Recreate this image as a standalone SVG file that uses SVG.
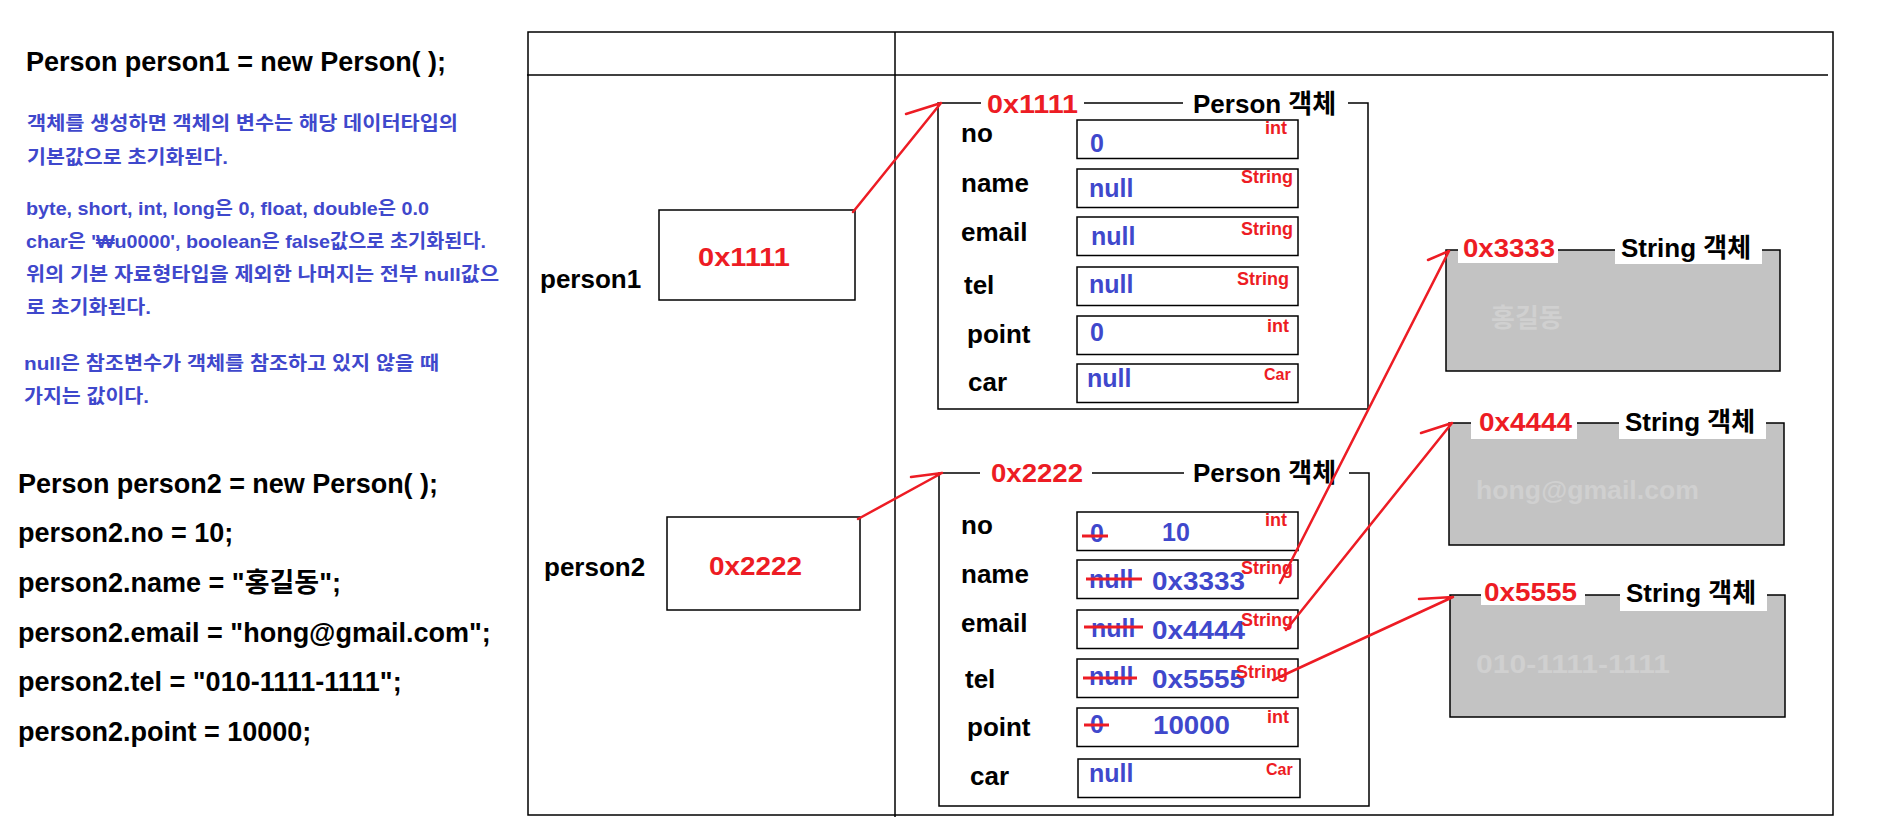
<svg xmlns="http://www.w3.org/2000/svg" width="1887" height="825" viewBox="0 0 1887 825">
<style>
text{font-family:'Liberation Sans','Noto Sans CJK KR',sans-serif;font-weight:bold}
.code{font-size:27px;fill:#000}
.note{font-size:19px;fill:#3F48CC}
.lbl{font-size:26px;fill:#000}
.addr{font-size:26px;fill:#ED1C24}
.val{font-size:25px;fill:#3F48CC}
.typ{font-size:18px;fill:#ED1C24}
.typs{font-size:16px;fill:#ED1C24}
.ghost{font-size:26px;fill:#D0D0D0}
.box{fill:#fff;stroke:#000;stroke-width:1.5}
.frame{fill:none;stroke:#000;stroke-width:1.5}
.str{fill:#C3C3C3;stroke:#000;stroke-width:1.5}
.bg{fill:#fff}
.strike{stroke:#ED1C24;stroke-width:3}
.arrow{fill:none;stroke:#ED1C24;stroke-width:2.5;stroke-linecap:round}
</style>
<rect width="1887" height="825" fill="#fff"/>

<g id="code-text">
<text class="code" x="26" y="71" textLength="420" lengthAdjust="spacing">Person person1 = new Person( );</text>
<text class="note" x="27" y="130" textLength="431" lengthAdjust="spacingAndGlyphs">객체를 생성하면 객체의 변수는 해당 데이터타입의</text>
<text class="note" x="27" y="164" textLength="201" lengthAdjust="spacingAndGlyphs">기본값으로 초기화된다.</text>
<text class="note" x="26" y="215" textLength="403" lengthAdjust="spacingAndGlyphs">byte, short, int, long은 0, float, double은 0.0</text>
<text class="note" x="26" y="248" textLength="460" lengthAdjust="spacingAndGlyphs">char은 '₩u0000', boolean은 false값으로 초기화된다.</text>
<text class="note" x="26" y="281" textLength="473" lengthAdjust="spacingAndGlyphs">위의 기본 자료형타입을 제외한 나머지는 전부 null값으</text>
<text class="note" x="26" y="314" textLength="125" lengthAdjust="spacingAndGlyphs">로 초기화된다.</text>
<text class="note" x="24" y="370" textLength="415" lengthAdjust="spacingAndGlyphs">null은 참조변수가 객체를 참조하고 있지 않을 때</text>
<text class="note" x="24" y="403" textLength="125" lengthAdjust="spacingAndGlyphs">가지는 값이다.</text>
<text class="code" x="18" y="493" textLength="420" lengthAdjust="spacing">Person person2 = new Person( );</text>
<text class="code" x="18" y="542">person2.no = 10;</text>
<text class="code" x="18" y="592">person2.name = "홍길동";</text>
<text class="code" x="18" y="642">person2.email = "hong@gmail.com";</text>
<text class="code" x="18" y="691">person2.tel = "010-1111-1111";</text>
<text class="code" x="18" y="741">person2.point = 10000;</text>
</g>

<g id="memory-table">
<rect class="frame" x="528" y="32" width="1305" height="783"/>
<line x1="527" y1="75" x2="1828" y2="75" stroke="#000" stroke-width="1.5"/>
<line x1="895" y1="32" x2="895" y2="817" stroke="#000" stroke-width="1.5"/>
</g>

<g id="var-person1">
<text class="lbl" x="540" y="288">person1</text>
<rect class="box" x="659" y="210" width="196" height="90"/>
<text class="addr" x="698" y="266" textLength="92" lengthAdjust="spacingAndGlyphs">0x1111</text>
</g>

<g id="var-person2">
<text class="lbl" x="544" y="576">person2</text>
<rect class="box" x="667" y="517" width="193" height="93"/>
<text class="addr" x="709" y="575" textLength="93" lengthAdjust="spacingAndGlyphs">0x2222</text>
</g>

<g id="person-object-1">
<path class="frame" d="M981,103 H938 V409 H1368 V103 H1348 M1084,103 H1183"/>
<text class="addr" x="987" y="113" textLength="91" lengthAdjust="spacingAndGlyphs">0x1111</text>
<text class="lbl" x="1193" y="113">Person 객체</text>
<text class="lbl" x="961" y="142">no</text>
<text class="lbl" x="961" y="192">name</text>
<text class="lbl" x="961" y="241">email</text>
<text class="lbl" x="964" y="294">tel</text>
<text class="lbl" x="967" y="343">point</text>
<text class="lbl" x="968" y="391">car</text>
<rect class="box" x="1077" y="120" width="221" height="38.5"/>
<rect class="box" x="1077" y="169" width="221" height="38.5"/>
<rect class="box" x="1077" y="217" width="221" height="38.5"/>
<rect class="box" x="1077" y="267" width="221" height="38.5"/>
<rect class="box" x="1077" y="316" width="221" height="38.5"/>
<rect class="box" x="1077" y="364" width="221" height="38.5"/>
<text class="val" x="1090" y="152">0</text>
<text class="val" x="1089" y="197">null</text>
<text class="val" x="1091" y="245">null</text>
<text class="val" x="1089" y="293">null</text>
<text class="val" x="1090" y="341">0</text>
<text class="val" x="1087" y="387">null</text>
<text class="typ" x="1265" y="134">int</text>
<text class="typ" x="1241" y="183">String</text>
<text class="typ" x="1241" y="235">String</text>
<text class="typ" x="1237" y="285">String</text>
<text class="typ" x="1267" y="332">int</text>
<text class="typs" x="1264" y="380">Car</text>
</g>

<g id="person-object-2">
<path class="frame" d="M980,473 H939 V806 H1369 V473 H1349 M1092,473 H1184"/>
<text class="addr" x="991" y="482" textLength="92" lengthAdjust="spacingAndGlyphs">0x2222</text>
<text class="lbl" x="1193" y="482">Person 객체</text>
<text class="lbl" x="961" y="534">no</text>
<text class="lbl" x="961" y="583">name</text>
<text class="lbl" x="961" y="632">email</text>
<text class="lbl" x="965" y="688">tel</text>
<text class="lbl" x="967" y="736">point</text>
<text class="lbl" x="970" y="785">car</text>
<rect class="box" x="1077" y="512" width="221" height="38.5"/>
<rect class="box" x="1077" y="560" width="221" height="38.5"/>
<rect class="box" x="1077" y="610" width="221" height="38.5"/>
<rect class="box" x="1077" y="659" width="221" height="38.5"/>
<rect class="box" x="1077" y="708" width="221" height="38.5"/>
<rect class="box" x="1078" y="759" width="222" height="38.5"/>
<text class="val" x="1090" y="542">0</text>
<text class="val" x="1162" y="541">10</text>
<text class="val" x="1089" y="588">null</text>
<text class="val" x="1152" y="590" textLength="93" lengthAdjust="spacingAndGlyphs">0x3333</text>
<text class="val" x="1091" y="637">null</text>
<text class="val" x="1152" y="639" textLength="93" lengthAdjust="spacingAndGlyphs">0x4444</text>
<text class="val" x="1089" y="685">null</text>
<text class="val" x="1152" y="688" textLength="93" lengthAdjust="spacingAndGlyphs">0x5555</text>
<text class="val" x="1090" y="733">0</text>
<text class="val" x="1153" y="734" textLength="77" lengthAdjust="spacingAndGlyphs">10000</text>
<text class="val" x="1089" y="782">null</text>
<line class="strike" x1="1082" y1="536" x2="1108" y2="536"/>
<line class="strike" x1="1086" y1="579" x2="1142" y2="579"/>
<line class="strike" x1="1084" y1="627" x2="1143" y2="627"/>
<line class="strike" x1="1083" y1="678" x2="1137" y2="678"/>
<line class="strike" x1="1084" y1="725" x2="1109" y2="725"/>
<text class="typ" x="1265" y="526">int</text>
<text class="typ" x="1241" y="574">String</text>
<text class="typ" x="1241" y="626">String</text>
<text class="typ" x="1236" y="678">String</text>
<text class="typ" x="1267" y="723">int</text>
<text class="typs" x="1266" y="775">Car</text>
</g>

<g id="string-object-1">
<rect class="str" x="1446" y="250" width="334" height="121"/>
<rect class="bg" x="1458" y="237" width="100" height="26"/>
<rect class="bg" x="1615" y="233" width="147" height="31"/>
<text class="addr" x="1463" y="257" textLength="92" lengthAdjust="spacingAndGlyphs">0x3333</text>
<text class="lbl" x="1621" y="257">String 객체</text>
<text class="ghost" x="1491" y="327">홍길동</text>
</g>

<g id="string-object-2">
<rect class="str" x="1449" y="423" width="335" height="122"/>
<rect class="bg" x="1471" y="411" width="106" height="28"/>
<rect class="bg" x="1619" y="407" width="147" height="32"/>
<text class="addr" x="1479" y="431" textLength="93" lengthAdjust="spacingAndGlyphs">0x4444</text>
<text class="lbl" x="1625" y="431">String 객체</text>
<text class="ghost" x="1476" y="499" textLength="223" lengthAdjust="spacingAndGlyphs">hong@gmail.com</text>
</g>

<g id="string-object-3">
<rect class="str" x="1450" y="595" width="335" height="122"/>
<rect class="bg" x="1481" y="581" width="104" height="24"/>
<rect class="bg" x="1620" y="581" width="147" height="30"/>
<text class="addr" x="1484" y="601" textLength="93" lengthAdjust="spacingAndGlyphs">0x5555</text>
<text class="lbl" x="1626" y="602">String 객체</text>
<text class="ghost" x="1476" y="673" textLength="194" lengthAdjust="spacingAndGlyphs">010-1111-1111</text>
</g>

<g id="connectors">
<path class="arrow" d="M853,212 L941,103 M906,114 L941,103"/>
<path class="arrow" d="M858,519 L942,473 M911,477 L942,473"/>
<path class="arrow" d="M1280,583 L1449,251 M1428,260 L1449,251"/>
<path class="arrow" d="M1286,630 L1452,423 M1421,433 L1452,423"/>
<path class="arrow" d="M1273,680 L1453,597 M1419,599 L1453,597"/>
</g>
</svg>
